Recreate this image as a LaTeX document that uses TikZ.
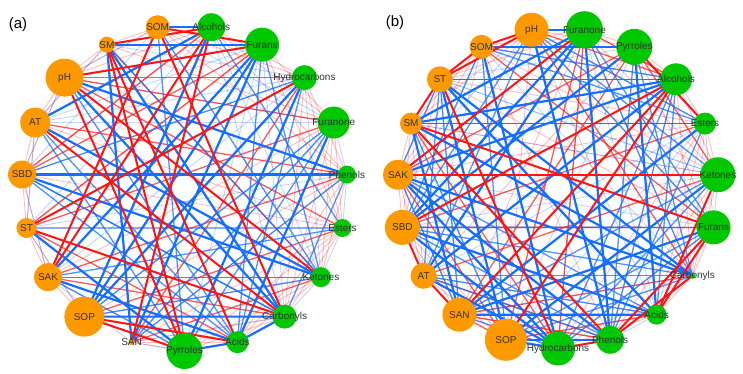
\documentclass[tikz,border=0pt]{standalone}
\usepackage{fontspec}
\setmainfont{Liberation Sans}
\usetikzlibrary{calc}
\definecolor{netred}{RGB}{255,20,20}
\definecolor{netblue}{RGB}{20,110,255}
\definecolor{soilorange}{RGB}{255,153,0}
\definecolor{vocgreen}{RGB}{0,200,0}

\begin{document}
\begin{tikzpicture}[x=1pt,y=1pt,font=\fontsize{10}{11}\selectfont,
    rA/.style={netred,line width=2pt},
    rB/.style={netred,line width=1.3pt,opacity=.7},
    rC/.style={netred,line width=.9pt,opacity=.28},
    bA/.style={netblue,line width=2.2pt},
    bB/.style={netblue,line width=1.3pt,opacity=.75},
    bC/.style={netblue,line width=.9pt,opacity=.28},
    soil/.style={circle,fill=soilorange,inner sep=0pt},
    voc/.style={circle,fill=vocgreen,inner sep=0pt},
    tag/.style={text=black!80,inner sep=0pt}]
  \useasboundingbox (0,0) rectangle (743,373);
  \coordinate (ca) at (184.5,185);
  \coordinate (cb) at (558,185);
  \foreach \k in {0,...,18} {
    \coordinate (a\k) at ($(ca)+({270+\k*360/19}:163)$);
    \coordinate (b\k) at ($(cb)+({270+\k*360/19}:160.5)$);
  }
  % panel (a): correlations
  \foreach \i/\j in {18/0,18/1,18/2,17/3,16/0,16/17,15/17,15/16,14/16,14/15,13/15,13/14,12/14,12/13,11/13,11/12,10/12,10/11,9/7,9/6,8/6,7/5,7/4,6/4,6/3,5/3,4/2,4/1,3/1,2/0,16/3,15/4,14/4,13/4,12/9,11/6,10/5,10/7,9/5,8/4,7/2,6/2,5/1,4/0,3/0,18/4,17/5,16/6,15/8,14/9,18/5}
    \draw[rC] (a\i) -- (a\j);
  \foreach \i/\j in {13/6,15/5,14/7,13/7,12/6,11/7,10/6,9/3,9/2,8/2,8/0,7/3,6/5,5/4,4/3,3/2,2/18,1/17,0/17,0/18,18/16,17/15,16/14,15/13,14/12,13/11,12/10,11/9,18/6,17/6,16/7,15/9,14/10,13/8}
    \draw[bC] (a\i) -- (a\j);
  \foreach \i/\j in {12/7,8/14,7/18,6/15,5/13,6/12,4/12,3/11,9/14,8/15,2/16,4/17,1/15,5/16,3/18}
    \draw[rB] (a\i) -- (a\j);
  \foreach \i/\j in {9/13,8/12,7/14,7/15,6/17,6/18,5/18,4/16,4/15,3/17,3/16,2/14,1/13,1/14,0/13,0/16,9/17,8/1,7/1,6/0,5/2,10/3,10/0,11/3,12/1,14/2,9/4,8/3}
    \draw[bB] (a\i) -- (a\j);
  \foreach \i/\j in {14/5,17/2,10/9,11/8,17/9,16/1,14/3,12/2,11/2,13/9,8/17,7/17,11/18,8/16,6/1,12/5,13/3,0/1,1/2,7/0,15/0,8/18}
    \draw[bA] (a\i) -- (a\j);
  \foreach \i/\j in {15/2,15/7,17/1,10/2,12/8,11/9,10/8,9/18,12/0,13/2,16/9,12/3,11/1,11/0,10/16,17/0}
    \draw[rA] (a\i) -- (a\j);
  % panel (b): correlations
  \foreach \i/\j in {0/2,1/3,2/3,3/4,3/5,4/6,5/6,5/7,6/7,6/8,7/8,7/9,8/9,8/10,9/11,10/12,11/13,12/14,13/14,13/15,14/15,14/16,15/17,16/18,17/0,18/1,0/6,1/7,2/8,3/9,4/10,5/11,6/12,7/13,9/12,10/13,11/14,12/15,13/16,14/17,15/18,16/0,17/1,18/2,0/4,1/5,2/6,3/7,4/8,5/9,6/10,7/11,4/12,5/13,6/14,7/15,8/16,9/17,10/18,11/1}
    \draw[rC] (b\i) -- (b\j);
  \foreach \i/\j in {0/3,1/2,2/9,3/6,4/5,5/12,6/16,7/14,8/12,10/14,11/15,11/16,12/17,13/18,14/0,16/2,17/3,4/13,5/14,6/18,7/17,8/18,9/0,10/2,11/3,12/5,13/5,14/4,15/5}
    \draw[bC] (b\i) -- (b\j);
  \foreach \i/\j in {10/7,9/7,8/5,8/14,7/12,6/13,6/15,5/16,4/15,3/17,2/18,1/17,0/13,0/9,9/18,8/17,10/3,11/4,12/2,14/18,16/1,17/18}
    \draw[rB] (b\i) -- (b\j);
  \foreach \i/\j in {12/7,15/4,13/6,16/3,11/7,11/6,10/6,10/5,10/4,9/4,9/3,8/3,8/1,7/2,7/1,7/0,6/1,5/0,5/17,4/18,4/0,3/18,3/15,2/14,2/16,1/15,1/16,0/17,18/13,18/11,17/12,17/14,16/12,16/10,15/11,14/12,15/10}
    \draw[bB] (b\i) -- (b\j);
  \foreach \i/\j in {17/2,18/1,11/8,10/9,12/3,13/7,14/7,9/15,9/16,9/1,8/2,15/2,13/17,12/18,3/13,2/12,1/14,0/15,0/14,0/16,5/18,4/17,7/16,8/15,9/13,10/1,11/0,6/17,18/0,14/3}
    \draw[bA] (b\i) -- (b\j);
  \foreach \i/\j in {14/5,13/4,13/1,9/14,12/10,11/10,17/7,18/7,15/7,0/1,2/5,1/4,2/4,16/17,15/16,12/13,11/12,8/6,3/1,0/12}
    \draw[rA] (b\i) -- (b\j);
  % nodes
  \foreach \k/\t/\r/\s in {0/Pyrroles/18/voc,1/Acids/11/voc,2/Carbonyls/12/voc,3/Ketones/10/voc,4/Esters/9/voc,5/Phenols/9/voc,6/Furanone/16/voc,7/Hydrocarbons/12.5/voc,8/Furans/17/voc,9/Alcohols/14/voc,10/SOM/12/soil,11/SM/8/soil,12/pH/19/soil,13/AT/15/soil,14/SBD/14/soil,15/ST/10/soil,16/SAK/14/soil,17/SOP/20/soil,18/SAN/3/soil} {
    \node[\s,minimum size={2*\r pt}] (na\k) at (a\k) {};
    \node[tag] (ta\k) at (a\k) {\t};
  }
  \foreach \k/\t/\r/\s in {0/Hydrocarbons/17/voc,1/Phenols/14/voc,2/Acids/10/voc,3/Carbonyls/3/voc,4/Furans/17/voc,5/Ketones/17.5/voc,6/Esters/11/voc,7/Alcohols/16/voc,8/Pyrroles/18/voc,9/Furanone/18.5/voc,10/pH/17/soil,11/SOM/12/soil,12/ST/13/soil,13/SM/11/soil,14/SAK/15/soil,15/SBD/17.5/soil,16/AT/13/soil,17/SAN/17/soil,18/SOP/21/soil} {
    \node[\s,minimum size={2*\r pt}] (nb\k) at (b\k) {};
    \node[tag] (tb\k) at (b\k) {\t};
  }
  \node[font=\fontsize{15}{16}\selectfont] (pa) at (18,348) {(a)};
  \node[font=\fontsize{15}{16}\selectfont] (pb) at (395,350) {(b)};
\end{tikzpicture}
\end{document}
